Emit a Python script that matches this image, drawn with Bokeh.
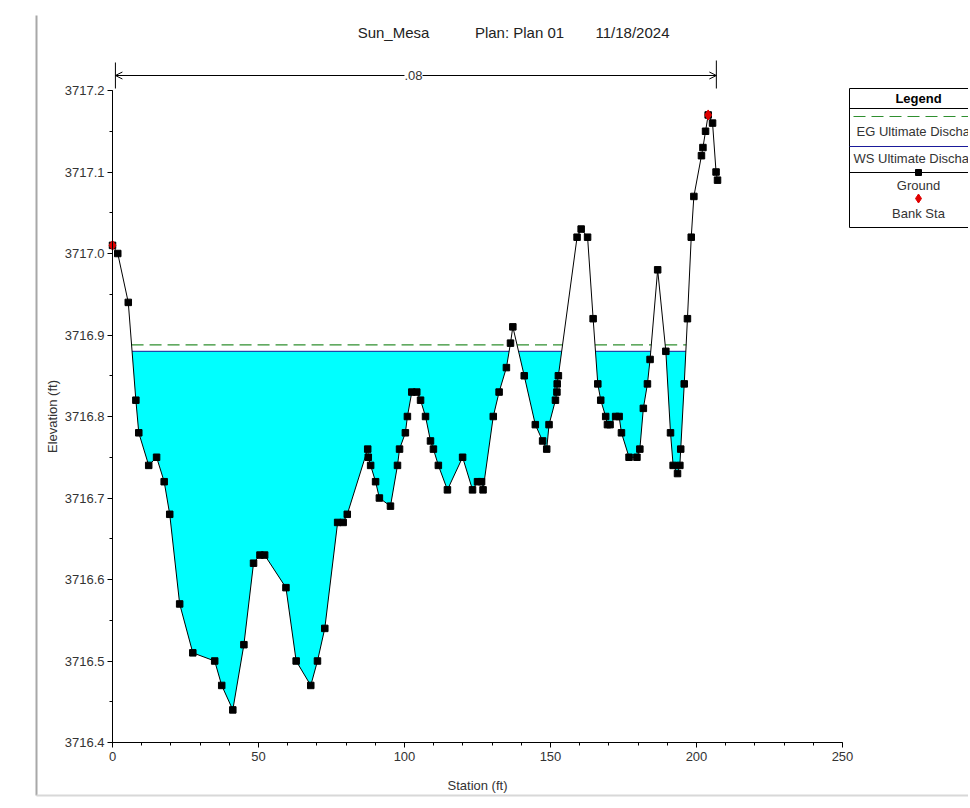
import numpy as np
from bokeh.plotting import figure
from bokeh.models import (Label, Arrow, OpenHead, FixedTicker, LinearAxis,
                          PrintfTickFormatter, Range1d)
from bokeh.embed import file_html
from bokeh.resources import INLINE

# ---------------- data ----------------
title_parts = ["Sun_Mesa", "Plan: Plan 01", "11/18/2024"]

station = [0.0, 1.8, 5.4, 8.0, 9.0, 12.4, 15.1, 17.7, 19.6, 23.0, 27.5, 35.0, 37.4,
           41.2, 45.0, 48.3, 50.5, 52.1, 59.4, 62.9, 67.9, 70.2, 72.7, 77.1, 79.0,
           80.4, 87.4, 87.6, 88.4, 90.1, 91.4, 95.2, 97.6, 98.3, 100.3, 101.0,
           102.5, 104.2, 105.5, 107.2, 108.9, 109.9, 111.6, 114.7, 119.9, 123.3,
           125.0, 126.4, 126.9, 130.4, 132.4, 134.9, 136.3, 137.1, 141.0, 144.8,
           147.3, 148.7, 149.5, 151.7, 152.2, 152.3, 152.7, 159.1, 160.5, 162.7,
           164.6, 166.2, 167.2, 168.9, 169.5, 170.4, 172.3, 173.5, 174.3, 176.9,
           179.6, 180.6, 181.8, 183.2, 184.1, 186.7, 189.5, 191.1, 192.0, 193.5,
           194.3, 194.6, 195.8, 196.9, 198.2, 199.1, 201.7, 202.2, 203.1, 204.0,
           205.5, 206.7, 207.2]
elevation = [3717.01, 3717.00, 3716.94, 3716.82, 3716.78, 3716.74, 3716.75, 3716.72,
             3716.68, 3716.57, 3716.51, 3716.50, 3716.47, 3716.44, 3716.52, 3716.62,
             3716.63, 3716.63, 3716.59, 3716.50, 3716.47, 3716.50, 3716.54, 3716.67,
             3716.67, 3716.68, 3716.76, 3716.75, 3716.74, 3716.72, 3716.70, 3716.69,
             3716.74, 3716.76, 3716.78, 3716.80, 3716.83, 3716.83, 3716.82, 3716.80,
             3716.77, 3716.76, 3716.74, 3716.71, 3716.75, 3716.71, 3716.72, 3716.72,
             3716.71, 3716.80, 3716.83, 3716.86, 3716.89, 3716.91, 3716.85, 3716.79,
             3716.77, 3716.76, 3716.79, 3716.82, 3716.83, 3716.84, 3716.85, 3717.02,
             3717.03, 3717.02, 3716.92, 3716.84, 3716.82, 3716.80, 3716.79, 3716.79,
             3716.80, 3716.80, 3716.78, 3716.75, 3716.75, 3716.76, 3716.81, 3716.84,
             3716.87, 3716.98, 3716.88, 3716.78, 3716.74, 3716.73, 3716.74, 3716.76,
             3716.84, 3716.92, 3717.02, 3717.07, 3717.12, 3717.13, 3717.15, 3717.17,
             3717.16, 3717.10, 3717.09]
bank_station = [0.0, 204.0]
bank_elevation = [3717.01, 3717.17]
ws_elev = 3716.88
eg_elev = 3716.888
n_value_label = ".08"
legend_title = "Legend"
legend_labels = ["EG Ultimate Discharge", "WS Ultimate Discharge", "Ground", "Bank Sta"]
x_axis_title = "Station (ft)"
y_axis_title = "Elevation (ft)"
x_ticks = [0, 50, 100, 150, 200, 250]
y_ticks = [3716.4, 3716.5, 3716.6, 3716.7, 3716.8, 3716.9, 3717.0, 3717.1, 3717.2]

# ---------------- layout ----------------
W, H = 968, 804
AXL, AXR, AXT, AXB = 112, 842, 90, 742      # pixel extent of the axes box
XA0, XA1 = x_ticks[0], x_ticks[-1]
YA0, YA1 = y_ticks[0], y_ticks[-1]
KX = (AXR - AXL) / (XA1 - XA0)
KY = (AXB - AXT) / (YA1 - YA0)
FONT = "Liberation Sans"
TXT = "#333333"
EG_COLOR = "#2f8f2f"
WS_COLOR = "#1a1a9a"


def sx(px):  # pixel x -> data x
    return XA0 + (px - AXL) / KX


def sy(py):  # pixel y -> data y
    return YA1 - (py - AXT) / KY


def wet_intervals(xs, ys, level):
    segs, cur = [], None
    if ys[0] < level:
        cur = xs[0]
    for i in range(len(xs) - 1):
        x0, y0, x1, y1 = xs[i], ys[i], xs[i + 1], ys[i + 1]
        b0, b1 = y0 < level, y1 < level
        if b0 != b1:
            xc = x0 + (level - y0) * (x1 - x0) / (y1 - y0)
            if b1:
                cur = xc
            else:
                segs.append((cur, xc))
                cur = None
    if cur is not None:
        segs.append((cur, xs[-1]))
    return segs


# fill polygon (water below WS)
fx, flo = [], []
for i in range(len(station) - 1):
    x0, y0, x1, y1 = station[i], elevation[i], station[i + 1], elevation[i + 1]
    fx.append(x0)
    flo.append(min(y0, ws_elev))
    if (y0 < ws_elev) != (y1 < ws_elev):
        xc = x0 + (ws_elev - y0) * (x1 - x0) / (y1 - y0)
        fx.append(xc)
        flo.append(ws_elev)
fx.append(station[-1])
flo.append(min(elevation[-1], ws_elev))
fhi = [ws_elev] * len(fx)

p = figure(width=W, height=H, x_range=Range1d(sx(0), sx(W)), y_range=Range1d(sy(H), sy(0)),
           output_backend="svg", toolbar_location=None,
           x_axis_location=None, y_axis_location=None,
           min_border=0, min_border_left=0, min_border_right=0,
           min_border_top=0, min_border_bottom=0)
p.title.visible = False
p.outline_line_color = None
p.grid.visible = False
p.background_fill_color = "white"
p.border_fill_color = "white"

# window frame lines
p.segment(x0=[sx(36), sx(36)], y0=[sy(15), sy(795)], x1=[sx(36), sx(W + 5)], y1=[sy(795), sy(795)],
          line_color=["#a8a8a8", "#d8d8d8"], line_width=2)

# water
p.varea(x=fx, y1=flo, y2=fhi, fill_color="#00FFFF")

eg_segs = wet_intervals(station, elevation, eg_elev)
p.multi_line(xs=[[a, b] for a, b in eg_segs], ys=[[eg_elev, eg_elev] for _ in eg_segs],
             line_color=EG_COLOR, line_width=1.2, line_dash="12 6")
ws_segs = wet_intervals(station, elevation, ws_elev)
p.multi_line(xs=[[a, b] for a, b in ws_segs], ys=[[ws_elev, ws_elev] for _ in ws_segs],
             line_color=WS_COLOR, line_width=1)

p.line(station, elevation, line_color="black", line_width=1)
p.scatter(station, elevation, marker="square", size=6.5, color="black")
p.scatter(bank_station, bank_elevation, marker="diamond", size=10, color="#e00000")

# axes (fixed at the box edges)
xax = LinearAxis(fixed_location=YA0, bounds=(XA0, XA1))
yax = LinearAxis(fixed_location=XA0, bounds=(YA0, YA1))
p.add_layout(xax, "below")
p.add_layout(yax, "left")
xax.ticker = FixedTicker(ticks=x_ticks, minor_ticks=list(np.arange(XA0, XA1 + 1, 10)))
yax.ticker = FixedTicker(ticks=y_ticks, minor_ticks=list(np.round(np.arange(YA0, YA1 + 0.01, 0.05), 2)))
yax.formatter = PrintfTickFormatter(format="%.1f")
for ax in (xax, yax):
    ax.axis_line_color = "black"
    ax.major_tick_line_color = "black"
    ax.minor_tick_line_color = "black"
    ax.major_tick_in = 0
    ax.major_tick_out = 5
    ax.minor_tick_in = 0
    ax.minor_tick_out = 3
    ax.major_label_text_font = FONT
    ax.major_label_text_font_size = "13px"
    ax.major_label_text_color = TXT
    ax.axis_label_text_font = FONT
    ax.axis_label_text_font_size = "13px"
    ax.axis_label_text_font_style = "normal"
    ax.axis_label_text_color = TXT
xax.axis_label = x_axis_title
yax.axis_label = y_axis_title
xax.major_label_standoff = 4
xax.axis_label_standoff = 14
yax.major_label_standoff = 3
yax.axis_label_standoff = 2


def seg(x0, y0, x1, y1, color="black", width=1, dash="solid"):
    p.add_layout(Arrow(end=None, start=None, x_start=x0, y_start=y0, x_end=x1, y_end=y1,
                       line_color=color, line_width=width, line_dash=dash))


def txt(x, y, t, align="center", size="13px", style="normal", bg=None, color=TXT):
    p.add_layout(Label(x=x, y=y, text=t, text_align=align, text_baseline="middle",
                       text_font=FONT, text_font_size=size, text_font_style=style,
                       text_color=color, background_fill_color=bg))


# title
for cx, t in zip([393, 519, 632], title_parts):
    txt(sx(cx), sy(32), t, size="15px", color="#222222")

# n value arrow across the section
ay = sy(75)
nl, nr = station[0] + 1.0, station[-1] - 0.4
p.add_layout(Arrow(start=OpenHead(size=7, line_width=1), end=OpenHead(size=7, line_width=1),
                   x_start=nl, y_start=ay, x_end=nr, y_end=ay,
                   line_color="black", line_width=1))
seg(nl, sy(62), nl, sy(88))
seg(nr, sy(60), nr, sy(88))
txt(sx(413), ay, n_value_label, bg="white")

# legend box
L, R, T, B = 849, 990, 88, 227
p.quad(left=[sx(L)], right=[sx(R)], top=[sy(T)], bottom=[sy(B)],
       fill_color="white", line_color="black", line_width=1)
txt(sx(918), sy(98), legend_title, style="bold", color="black")
seg(sx(L), sy(108), sx(R), sy(108))
seg(sx(853), sy(116), sx(R), sy(116), color=EG_COLOR, width=1.2, dash="12 6")
txt(sx(856), sy(131), legend_labels[0], align="left")
seg(sx(L), sy(146), sx(R), sy(146), color=WS_COLOR)
txt(sx(853), sy(158), legend_labels[1], align="left")
seg(sx(L), sy(172), sx(R), sy(172))
p.scatter([sx(918)], [sy(172)], marker="square", size=6, color="black")
txt(sx(918), sy(185), legend_labels[2])
p.scatter([sx(918)], [sy(198)], marker="diamond", size=9, color="#e00000")
txt(sx(918), sy(213), legend_labels[3])

open("out.html", "w").write(file_html(p, INLINE))
